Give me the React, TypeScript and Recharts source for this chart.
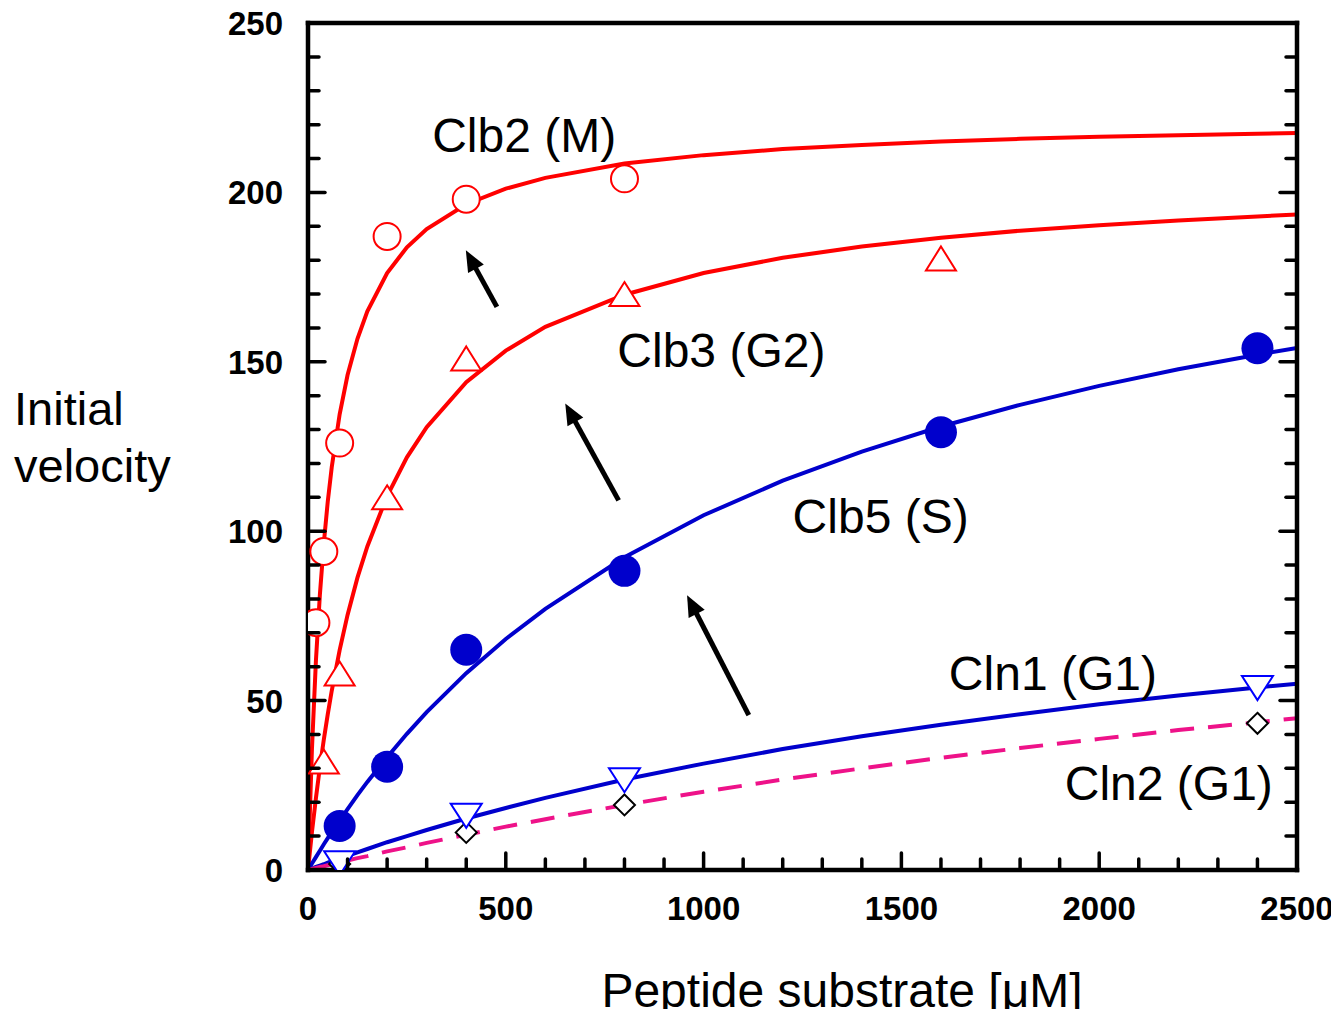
import React from 'react';
import {
  ComposedChart,
  Line,
  Scatter,
  XAxis,
  YAxis,
  ReferenceLine,
  ReferenceDot,
  Label,
} from 'recharts';

const FONT = '"Liberation Sans", Arial, Helvetica, sans-serif';

// Substrate concentrations (µM) at which the fitted curves are sampled
const substrate = [0, 10, 20, 30, 40, 50, 60, 80, 100, 125, 150, 200, 250, 300, 400, 500, 600, 800, 1000, 1200, 1400, 1600, 1800, 2000, 2200, 2400, 2500];

// Fitted initial-velocity curves
const clb2Fit = [0, 35.8, 61.7, 81.2, 96.5, 108.8, 118.9, 134.5, 146.1, 156.8, 164.9, 176.2, 183.8, 189.2, 196.5, 201.1, 204.3, 208.5, 211.0, 212.8, 214.0, 215.0, 215.8, 216.4, 216.9, 217.3, 217.5];
const clb3Fit = [0, 11.2, 21.2, 30.3, 38.5, 46.0, 52.9, 64.9, 75.3, 86.3, 95.5, 110.4, 121.8, 130.7, 144.0, 153.3, 160.3, 169.8, 176.2, 180.7, 184.0, 186.6, 188.7, 190.3, 191.7, 192.9, 193.5];
const clb5Fit = [0, 1.9, 3.8, 5.7, 7.6, 9.4, 11.2, 14.6, 18.0, 22.1, 26.0, 33.3, 40.2, 46.6, 58.1, 68.2, 77.1, 92.3, 104.7, 114.9, 123.5, 130.9, 137.3, 142.9, 147.8, 152.1, 154.1];
const cln1Fit = [0, 0.4, 0.9, 1.3, 1.7, 2.2, 2.6, 3.4, 4.2, 5.2, 6.2, 8.2, 10.0, 11.8, 15.2, 18.3, 21.3, 26.7, 31.4, 35.7, 39.5, 42.9, 46.0, 48.9, 51.5, 53.9, 55.0];
const cln2Fit = [0, 0.3, 0.6, 0.9, 1.1, 1.4, 1.7, 2.2, 2.8, 3.5, 4.1, 5.5, 6.7, 8.0, 10.4, 12.8, 15.0, 19.2, 23.1, 26.7, 30.0, 33.1, 36.0, 38.7, 41.3, 43.6, 44.8];

// Measured points
const clb2X = [20, 40, 80, 200, 400, 800];
const clb2Y = [73, 94, 126, 187, 198, 204];
const clb3X = [40, 80, 200, 400, 800, 1600];
const clb3Y = [32, 58, 110, 151, 170, 180.5];
const clb5X = [80, 200, 400, 800, 1600, 2400];
const clb5Y = [13, 30.5, 65, 88.3, 129.2, 154];
const cln1X = [80, 400, 800, 2400];
const cln1Y = [2, 16, 26.5, 53.7];
const cln2X = [80, 400, 800, 2400];
const cln2Y = [1.8, 11.1, 19.2, 43.3];

// Axis ticks
const xMajorTicks = [0, 500, 1000, 1500, 2000, 2500];
const yMajorTicks = [0, 50, 100, 150, 200, 250];
const xTicks = Array.from({ length: 26 }, (_, i) => i * 100);
const yTicks = Array.from({ length: 26 }, (_, i) => i * 10);

// Curve annotations (text start, baseline) in data units
const seriesLabels = [
  { text: 'Clb2 (M)', x: 314, y: 211.8 },
  { text: 'Clb3 (G2)', x: 782, y: 148.4 },
  { text: 'Clb5 (S)', x: 1225, y: 99.4 },
  { text: 'Cln1 (G1)', x: 1620, y: 53.1 },
  { text: 'Cln2 (G1)', x: 1913, y: 20.6 },
];

// Arrows: tail -> tip in data units
const arrows = [
  { x1: 477.5, y1: 166.2, x2: 399, y2: 182.9 },
  { x1: 785.2, y1: 109.1, x2: 650.3, y2: 137.7 },
  { x1: 1114.2, y1: 45.7, x2: 958.2, y2: 81.1 },
];

const curveRows = substrate.map((x, i) => ({
  x,
  clb2: clb2Fit[i],
  clb3: clb3Fit[i],
  clb5: clb5Fit[i],
  cln1: cln1Fit[i],
  cln2: cln2Fit[i],
}));

const toPoints = (xs: number[], ys: number[]) => xs.map((x, i) => ({ x, y: ys[i] }));

const RED = '#FF0000';
const BLUE = '#0000CC';
const BLUE_OPEN = '#0000FF';
const PINK = '#EE1289';

const TICK_W = 3.5;
const MAJOR = 17;
const MINOR = 11;
const TICK_FONT = 33;
const TEXT_FONT = 48;

const BottomTick = (props: any) => {
  const { x, y, payload } = props;
  const major = xMajorTicks.includes(payload.value);
  return (
    <g>
      <line x1={x} y1={y} x2={x} y2={y - (major ? MAJOR : MINOR)} stroke="#000" strokeWidth={TICK_W} strokeLinecap="round" />
      {major && (
        <text x={x} y={y + 50} textAnchor="middle" fontFamily={FONT} fontWeight="bold" fontSize={TICK_FONT} fill="#000">
          {payload.value}
        </text>
      )}
    </g>
  );
};

const TopTick = (props: any) => {
  const { x, y, payload } = props;
  const major = xMajorTicks.includes(payload.value);
  return <line x1={x} y1={y} x2={x} y2={y + (major ? MAJOR : MINOR)} stroke="#000" strokeWidth={TICK_W} strokeLinecap="round" />;
};

const LeftTick = (props: any) => {
  const { x, y, payload } = props;
  const major = yMajorTicks.includes(payload.value);
  return (
    <g>
      <line x1={x} y1={y} x2={x + (major ? MAJOR : MINOR)} y2={y} stroke="#000" strokeWidth={TICK_W} strokeLinecap="round" />
      {major && (
        <text x={x - 25} y={y + 12} textAnchor="end" fontFamily={FONT} fontWeight="bold" fontSize={TICK_FONT} fill="#000">
          {payload.value}
        </text>
      )}
    </g>
  );
};

const RightTick = (props: any) => {
  const { x, y, payload } = props;
  const major = yMajorTicks.includes(payload.value);
  return <line x1={x} y1={y} x2={x - (major ? MAJOR : MINOR)} y2={y} stroke="#000" strokeWidth={TICK_W} strokeLinecap="round" />;
};

const OpenCircle = ({ cx, cy }: any) => <circle cx={cx} cy={cy} r={13.5} fill="#fff" stroke={RED} strokeWidth={2} />;
const UpTriangle = ({ cx, cy }: any) => (
  <polygon points={`${cx},${cy - 12} ${cx + 15},${cy + 12} ${cx - 15},${cy + 12}`} fill="#fff" stroke={RED} strokeWidth={2} />
);
const FilledCircle = ({ cx, cy }: any) => <circle cx={cx} cy={cy} r={16} fill={BLUE} />;
const DownTriangle = ({ cx, cy }: any) => (
  <polygon points={`${cx - 15.5},${cy - 12} ${cx + 15.5},${cy - 12} ${cx},${cy + 12}`} fill="#fff" stroke={BLUE_OPEN} strokeWidth={2} />
);
const Diamond = ({ cx, cy }: any) => (
  <polygon points={`${cx},${cy - 10.5} ${cx + 10.5},${cy} ${cx},${cy + 10.5} ${cx - 10.5},${cy}`} fill="#fff" stroke="#000" strokeWidth={2} />
);

const Arrow = (props: any) => {
  const { x1, y1, x2, y2 } = props;
  const dx = x2 - x1;
  const dy = y2 - y1;
  const len = Math.hypot(dx, dy) || 1;
  const ux = dx / len;
  const uy = dy / len;
  const headLen = 21;
  const headHalf = 9;
  const bx = x2 - ux * headLen;
  const by = y2 - uy * headLen;
  return (
    <g>
      <line x1={x1} y1={y1} x2={bx + ux * 3} y2={by + uy * 3} stroke="#000" strokeWidth={5} />
      <polygon
        points={`${x2},${y2} ${bx - uy * headHalf},${by + ux * headHalf} ${bx + uy * headHalf},${by - ux * headHalf}`}
        fill="#000"
      />
    </g>
  );
};

const axisLineStyle = { stroke: '#000', strokeWidth: 4.5, strokeLinecap: 'square' as const };

export default function App() {
  return (
    <div style={{ width: 1339, height: 1017, margin: -8, background: '#fff' }}>
      <ComposedChart
        width={1339}
        height={1017}
        data={curveRows}
        margin={{ top: 22, right: 41, bottom: 87, left: 0 }}
      >
        <XAxis
          dataKey="x"
          type="number"
          domain={[0, 2500]}
          ticks={xTicks}
          interval={0}
          tickSize={0}
          tickMargin={0}
          tickLine={false}
          tick={<BottomTick />}
          axisLine={axisLineStyle}
          height={60}
          allowDataOverflow
        >
          <Label
            content={(p: any) => {
              const vb = p.viewBox || { x: 308, y: 870, width: 990 };
              return (
                <text x={vb.x + 534} y={vb.y + 137} textAnchor="middle" fontFamily={FONT} fontSize={48} fill="#000">
                  Peptide substrate [μM]
                </text>
              );
            }}
          />
        </XAxis>
        <XAxis
          xAxisId="top"
          orientation="top"
          type="number"
          domain={[0, 2500]}
          ticks={xTicks}
          interval={0}
          tickSize={0}
          tickMargin={0}
          tickLine={false}
          tick={<TopTick />}
          axisLine={axisLineStyle}
          height={1}
          allowDataOverflow
        />
        <YAxis
          type="number"
          domain={[0, 250]}
          ticks={yTicks}
          interval={0}
          tickSize={0}
          tickMargin={0}
          tickLine={false}
          tick={<LeftTick />}
          axisLine={axisLineStyle}
          width={308}
          allowDataOverflow
        >
          <Label
            content={(p: any) => {
              const vb = p.viewBox || { x: 0, y: 23 };
              return (
                <text fontFamily={FONT} fontSize={47} fill="#000">
                  <tspan x={vb.x + 14} y={vb.y + 402}>Initial</tspan>
                  <tspan x={vb.x + 14} y={vb.y + 459}>velocity</tspan>
                </text>
              );
            }}
          />
        </YAxis>
        <YAxis
          yAxisId="right"
          orientation="right"
          type="number"
          domain={[0, 250]}
          ticks={yTicks}
          interval={0}
          tickSize={0}
          tickMargin={0}
          tickLine={false}
          tick={<RightTick />}
          axisLine={axisLineStyle}
          width={1}
          allowDataOverflow
        />

        <Line dataKey="clb2" type="linear" stroke={RED} strokeWidth={4} dot={false} activeDot={false} isAnimationActive={false} />
        <Line dataKey="clb3" type="linear" stroke={RED} strokeWidth={4} dot={false} activeDot={false} isAnimationActive={false} />
        <Line dataKey="clb5" type="linear" stroke={BLUE} strokeWidth={4} dot={false} activeDot={false} isAnimationActive={false} />
        <Line dataKey="cln1" type="linear" stroke={BLUE} strokeWidth={4} dot={false} activeDot={false} isAnimationActive={false} />
        <Line dataKey="cln2" type="linear" stroke={PINK} strokeWidth={4} strokeDasharray="24 14" dot={false} activeDot={false} isAnimationActive={false} />

        {arrows.map((a, i) => (
          <ReferenceLine
            key={`arrow-${i}`}
            segment={[{ x: a.x1, y: a.y1 }, { x: a.x2, y: a.y2 }]}
            shape={<Arrow />}
            ifOverflow="visible"
          />
        ))}

        <Scatter data={toPoints(cln2X, cln2Y)} dataKey="y" shape={<Diamond />} isAnimationActive={false} />
        <Scatter data={toPoints(cln1X, cln1Y)} dataKey="y" shape={<DownTriangle />} isAnimationActive={false} />
        <Scatter data={toPoints(clb5X, clb5Y)} dataKey="y" shape={<FilledCircle />} isAnimationActive={false} />
        <Scatter data={toPoints(clb3X, clb3Y)} dataKey="y" shape={<UpTriangle />} isAnimationActive={false} />
        <Scatter data={toPoints(clb2X, clb2Y)} dataKey="y" shape={<OpenCircle />} isAnimationActive={false} />

        {seriesLabels.map((l) => (
          <ReferenceDot
            key={l.text}
            x={l.x}
            y={l.y}
            r={1}
            ifOverflow="visible"
            shape={(p: any) => (
              <text x={p.cx} y={p.cy} fontFamily={FONT} fontSize={TEXT_FONT} fill="#000">
                {l.text}
              </text>
            )}
          />
        ))}
      </ComposedChart>
    </div>
  );
}
